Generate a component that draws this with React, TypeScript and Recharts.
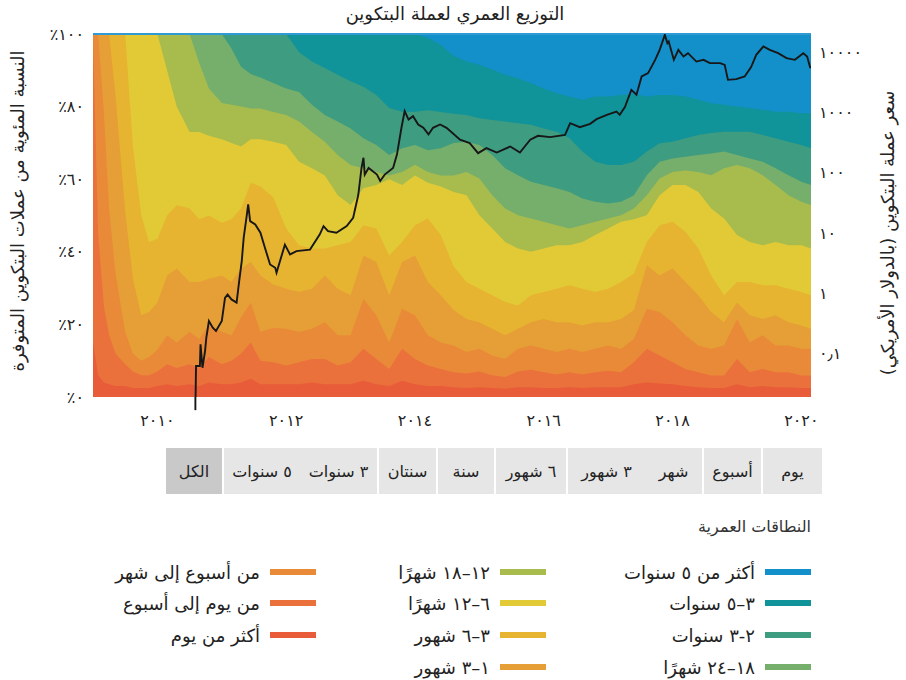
import { ComposedChart, Area, Line, XAxis, YAxis, ReferenceLine } from 'recharts';

const FONT = "'DejaVu Sans', sans-serif";

// sample dates (decimal years)
const years = [
  2009.0, 2009.08, 2009.17, 2009.25, 2009.35, 2009.5, 2009.62, 2009.75, 2009.87,
  2010.0, 2010.15, 2010.3, 2010.5, 2010.65, 2010.8,
  2011.0, 2011.15, 2011.3, 2011.45, 2011.6, 2011.8,
  2012.0, 2012.2, 2012.4, 2012.6, 2012.8,
  2013.0, 2013.2, 2013.4, 2013.6, 2013.8,
  2014.0, 2014.2, 2014.4, 2014.6, 2014.8,
  2015.0, 2015.2, 2015.4, 2015.6, 2015.8,
  2016.0, 2016.2, 2016.4, 2016.6, 2016.8,
  2017.0, 2017.2, 2017.4, 2017.6, 2017.8,
  2018.0, 2018.2, 2018.4, 2018.6, 2018.8,
  2019.0, 2019.2, 2019.4, 2019.6, 2019.8,
  2020.0, 2020.15,
];

// share of supply (%) last moved less than X ago (cumulative)
const under5y = [
  100, 100, 100, 100, 100, 100, 100, 100, 100,
  100, 100, 100, 100, 100, 100,
  100, 100, 100, 100, 100, 100,
  100, 100, 100, 100, 100,
  100, 100, 100, 100, 100,
  100, 99, 97, 94, 92.4,
  91.5, 90.2, 88.8, 87.8, 86.5,
  85, 83.7, 82.8, 81.9, 82.8,
  82.8, 83.2, 83.5, 82.8, 83.2,
  83.2, 82.8, 81.9, 80.9, 80.5,
  80, 79.6, 79.1, 78.6, 78.6,
  78.2, 78.2,
];
const under3y = [
  100, 100, 100, 100, 100, 100, 100, 100, 100,
  100, 100, 100, 100, 100, 100,
  100, 100, 100, 100, 100, 100,
  100, 95, 92.4, 90.6, 88.8,
  87, 85.5, 83.2, 79.6, 78.6,
  78.6, 79, 78.5, 78, 77.7,
  76.8, 76.3, 75.9, 75.4, 75,
  74, 73.1, 71.3, 67.6, 64.8,
  63.9, 63.9, 64.8, 67.6, 69.9,
  70.3, 71.3, 72.2, 72.7, 73.1,
  73.1, 73.1, 72.2, 71.3, 70.3,
  69.4, 68.5,
];
const under24m = [
  100, 100, 100, 100, 100, 100, 100, 100, 100,
  100, 100, 100, 100, 100, 100,
  100, 96, 91, 89, 88, 86.5,
  85, 84, 80.5, 77.7, 75.9,
  74, 71.3, 69.4, 66.7, 68.5,
  69.4, 68, 68.5, 70, 70.3,
  69.4, 66.7, 63, 61.1, 59.3,
  58.4, 57.5, 56.5, 54.7, 53.8,
  53.3, 53.8, 55.6, 61.1, 64.8,
  65.7, 66.2, 66.7, 67.1, 67.6,
  66.7, 65.7, 64.8, 63, 61.1,
  59.3, 58.4,
];
const under18m = [
  100, 100, 100, 100, 100, 100, 100, 100, 100,
  100, 100, 100, 100, 92, 85,
  81, 80.5, 80, 79.5, 79.5, 78.5,
  77.7, 75.9, 73, 70.3, 66.7,
  63.9, 63, 62, 61, 62,
  64, 62, 61, 61, 62,
  60.2, 55.6, 51.9, 50.1, 49.2,
  48.3, 47.3, 46.4, 47.3, 48.3,
  49.2, 50.1, 51.9, 55.6, 60.2,
  62, 62.4, 62, 61.1, 63,
  63.9, 63, 61.1, 58.4, 55.6,
  53.8, 52.9,
];
const under12m = [
  100, 100, 100, 100, 100, 100, 100, 100, 100,
  100, 90, 80, 73, 73, 72,
  71, 70, 69, 71, 71, 70.3,
  69.4, 64.8, 63, 61, 55.6,
  52.9, 57.5, 58.4, 60, 58.4,
  61, 59, 58, 56.5, 55.6,
  50.1, 46.4, 42.7, 40.9, 40,
  40.9, 41.8, 41.8, 42.7, 44.6,
  46.4, 48.3, 49, 50.1, 55.6,
  58.4, 58.4, 56.5, 51.9, 49.2,
  44.6, 42.7, 41.8, 42.7, 41.8,
  41.8, 40.9,
];
const under6m = [
  100, 100, 100, 100, 100, 100, 69, 50, 42.7,
  43.6, 50, 52.8, 52, 49, 50,
  48, 49, 52, 59, 58, 55,
  46.4, 41.8, 40.9, 40.9, 41.8,
  42.7, 47.3, 46.4, 39, 42.7,
  47.3, 49.2, 44.6, 36, 31.7,
  29.8, 28, 26.2, 25.2, 28,
  28.9, 29.8, 30.8, 29.8, 28.9,
  29.8, 31.7, 34, 42.7, 47.3,
  48.3, 45.5, 40.9, 33.5, 28,
  31.7, 31.7, 30.8, 30.8, 29.8,
  28.9, 28,
];
const under3m = [
  100, 100, 100, 100, 83, 51, 32.6, 22.5, 23.4,
  26, 33.5, 35.4, 31.7, 31.7, 32.6,
  33.5, 31.7, 35.4, 37.2, 33.5, 31,
  29.8, 28.9, 29.8, 33.5, 29.8,
  28, 39, 37.2, 28, 37.2,
  39, 31.7, 28, 24, 21.5,
  20.6, 18.8, 17, 18.8, 20.6,
  21.5, 20.6, 20.6, 19.7, 20.6,
  20.6, 21.5, 24, 36.3, 33.5,
  35.4, 31.7, 28, 23.4, 20.6,
  26, 22.5, 21.5, 22.5, 20.6,
  19.7, 18.8,
];
const under1m = [
  100, 100, 78, 52, 34, 18, 12, 10, 11,
  13, 17, 15, 18, 16, 20,
  18, 17, 22, 26, 18, 19,
  18.8, 17.9, 18.8, 20.6, 17,
  17, 27, 22.5, 15, 24.3,
  22.5, 17, 15, 14.2, 12.4,
  13.3, 11.4, 10.5, 13.3, 14.2,
  13.3, 12.4, 13.3, 12.4, 13.3,
  14.2, 13.3, 16, 24.3, 23.4,
  20.6, 17, 14.2, 13.3, 14.2,
  21.5, 15.1, 17, 14.2, 14.2,
  13.3, 13.3,
];
const under1w = [
  100, 45, 25, 17, 12, 9, 7, 6, 6,
  7, 9, 8, 9, 8, 11,
  9, 10, 12, 15, 10, 9.6,
  8.7, 9.6, 10.5, 10.5, 8.7,
  9.6, 13.3, 10.5, 7.7, 13.3,
  10.5, 8.7, 7.7, 6.8, 6.5,
  7, 6, 5.5, 7, 7.5,
  6.8, 6.2, 6.8, 6.2, 6.8,
  7.2, 6.8, 9.6, 13.3, 11.4,
  9.6, 7.7, 6.8, 5.9, 5.9,
  10.5, 6.8, 7.7, 6.8, 6.8,
  5.9, 5.9,
];
const under1d = [
  15, 6, 4, 3.5, 3, 3, 2.5, 2.5, 2.5,
  3, 3.5, 3, 3.5, 3, 4,
  3.5, 3.5, 4, 5, 3.5, 3.5,
  3.5, 3.5, 4, 3.5, 3.5,
  3.5, 4.5, 3.5, 3, 4.5,
  3.5, 3, 3, 2.7, 2.5,
  2.7, 2.5, 2.3, 2.7, 2.7,
  2.5, 2.5, 2.7, 2.5, 2.7,
  2.7, 2.7, 3.5, 4, 3.7,
  3.5, 3, 2.7, 2.5, 2.5,
  3.5, 2.7, 3, 2.7, 2.7,
  2.5, 2.5,
];

// bitcoin price, USD (log axis)
const priceYears = [
  2010.59, 2010.6, 2010.66, 2010.67, 2010.7, 2010.74, 2010.76, 2010.8, 2010.86, 2010.91,
  2011.0, 2011.05, 2011.09, 2011.15, 2011.23, 2011.27, 2011.31, 2011.34, 2011.39, 2011.41,
  2011.44, 2011.52, 2011.6, 2011.67, 2011.75, 2011.83, 2011.85, 2011.98, 2012.06, 2012.16,
  2012.37, 2012.52, 2012.58, 2012.65, 2012.78, 2012.94, 2013.04, 2013.12, 2013.17, 2013.2,
  2013.22, 2013.28, 2013.41, 2013.46, 2013.53, 2013.66, 2013.72, 2013.79, 2013.84, 2013.9,
  2013.97, 2014.05, 2014.13, 2014.21, 2014.28, 2014.39, 2014.49, 2014.7, 2014.85, 2014.98,
  2015.11, 2015.27, 2015.48, 2015.63, 2015.79, 2015.91, 2016.1, 2016.33, 2016.41, 2016.56,
  2016.72, 2016.82, 2016.98, 2017.13, 2017.18, 2017.26, 2017.36, 2017.44, 2017.52, 2017.62,
  2017.73, 2017.8, 2017.88, 2017.92, 2017.94, 2018.02, 2018.09, 2018.17, 2018.24, 2018.37,
  2018.48, 2018.58, 2018.74, 2018.81, 2018.86, 2018.99, 2019.12, 2019.22, 2019.3, 2019.41,
  2019.51, 2019.64, 2019.77, 2019.9, 2020.03, 2020.09, 2020.14,
];
const priceUsd = [
  0.0115, 0.062, 0.062, 0.142, 0.058, 0.11, 0.183, 0.346, 0.268, 0.236,
  0.346, 0.84, 0.955, 0.79, 0.7, 1.59, 3.42, 8.3, 20.3, 29.7,
  15.7, 13.8, 10.1, 5.7, 3.0, 2.65, 2.19, 6.4, 4.4, 5.0,
  5.3, 9.4, 13.0, 10.7, 10.1, 13.0, 17.9, 43, 120, 177,
  93, 120, 93, 73, 93, 120, 200, 556, 1052, 762,
  867, 631, 556, 431, 556, 631, 556, 352, 310, 211,
  256, 216, 272, 216, 352, 409, 389, 425, 664, 570,
  647, 774, 912, 1036, 912, 1225, 2371, 1960, 3944, 4487,
  7450, 10900, 19360, 14100, 15000, 7450, 10900, 8450, 9610, 6980,
  7450, 6580, 6580, 6150, 3470, 3560, 3944, 5640, 9010, 12400,
  10900, 9610, 7940, 7450, 9610, 8450, 5430,
];

const pctTicks = [0, 20, 40, 60, 80, 100];
const priceTicks = [0.1, 1, 10, 100, 1000, 10000];
const yearTicks = [2010, 2012, 2014, 2016, 2018, 2020];
const priceAxisMin = 0.019;

// oldest band first; each area is drawn from 0 up to its cumulative share
const bands = [
  { key: 'all', label: 'أكثر من ٥ سنوات', color: '#1390c9' },
  { key: 'under5y', label: '٣–٥ سنوات', color: '#11939a' },
  { key: 'under3y', label: '٢-٣ سنوات', color: '#3e9c80' },
  { key: 'under24m', label: '١٨–٢٤ شهرًا', color: '#76ae6b' },
  { key: 'under18m', label: '١٢–١٨ شهرًا', color: '#a8bc4d' },
  { key: 'under12m', label: '٦–١٢ شهرًا', color: '#e2ca36' },
  { key: 'under6m', label: '٣–٦ شهور', color: '#e6b430' },
  { key: 'under3m', label: '١–٣ شهور', color: '#e69f36' },
  { key: 'under1m', label: 'من أسبوع إلى شهر', color: '#e98a38' },
  { key: 'under1w', label: 'من يوم إلى أسبوع', color: '#eb713c' },
  { key: 'under1d', label: 'أكثر من يوم', color: '#e85c39' },
];

const rangeButtons = [
  { label: 'الكل', width: 58, active: true, divider: true },
  { label: '٥ سنوات', width: 76, divider: false },
  { label: '٣ سنوات', width: 79, divider: true },
  { label: 'سنتان', width: 59, divider: true },
  { label: 'سنة', width: 58, divider: true },
  { label: '٦ شهور', width: 72, divider: true },
  { label: '٣ شهور', width: 77, divider: false },
  { label: 'شهر', width: 59, divider: true },
  { label: 'أسبوع', width: 59, divider: true },
  { label: 'يوم', width: 59, divider: false },
];

const toArabic = (s: string) => s.replace(/\d/g, (d) => '٠١٢٣٤٥٦٧٨٩'[Number(d)]);

const tableData = years.map((t, i) => ({
  t,
  all: 100,
  under5y: under5y[i],
  under3y: under3y[i],
  under24m: under24m[i],
  under18m: under18m[i],
  under12m: under12m[i],
  under6m: under6m[i],
  under3m: under3m[i],
  under1m: under1m[i],
  under1w: under1w[i],
  under1d: under1d[i],
}));

const priceData = priceYears.map((t, i) => ({ t, p: priceUsd[i] }));

const tickStyle = { fontSize: 16, fill: '#222', fontFamily: FONT };

export default function App() {
  const legendCols = [bands.slice(0, 4), bands.slice(4, 8), bands.slice(8)];
  const colRight = [811, 546, 316];
  const rowY = [572, 603, 635, 667];
  let btnLeft = 166;

  return (
    <div
      style={{
        position: 'absolute',
        left: 0,
        top: 0,
        width: 906,
        height: 680,
        background: '#fff',
        fontFamily: FONT,
        color: '#222',
        overflow: 'hidden',
      }}
    >
      <div
        dir="rtl"
        style={{ position: 'absolute', left: 0, top: 3, width: 910, textAlign: 'center', fontSize: 18 }}
      >
        التوزيع العمري لعملة البتكوين
      </div>

      <div style={{ position: 'absolute', left: 0, top: 0 }}>
        <ComposedChart
          width={906}
          height={440}
          data={tableData}
          margin={{ top: 34, right: 25, bottom: 13, left: 33 }}
        >
          <XAxis
            dataKey="t"
            type="number"
            domain={[2009, 2020.15]}
            allowDataOverflow
            ticks={yearTicks}
            interval={0}
            tickFormatter={(v: number) => toArabic(String(v))}
            axisLine={false}
            tickLine={false}
            tickMargin={12}
            height={30}
            tick={{ ...tickStyle, letterSpacing: 2.5 }}
          />
          <YAxis
            yAxisId="pct"
            width={60}
            domain={[0, 100]}
            ticks={pctTicks}
            interval={0}
            tickFormatter={(v: number) => '٪' + toArabic(String(v))}
            axisLine={false}
            tickLine={false}
            tickMargin={3}
            tick={{ ...tickStyle, letterSpacing: 1 }}
          />
          <YAxis
            yAxisId="price"
            orientation="right"
            width={70}
            scale="log"
            domain={[priceAxisMin, 20000]}
            allowDataOverflow
            ticks={priceTicks}
            interval={0}
            tickFormatter={(v: number) => (v < 1 ? '٠٫١' : toArabic(String(v)))}
            axisLine={false}
            tickLine={false}
            tick={{ ...tickStyle, letterSpacing: 2.5 }}
          />
          {bands.map((b) => (
            <Area
              key={b.key}
              yAxisId="pct"
              dataKey={b.key}
              type="linear"
              stroke="none"
              fill={b.color}
              fillOpacity={1}
              dot={false}
              activeDot={false}
              isAnimationActive={false}
            />
          ))}
          <ReferenceLine yAxisId="pct" y={100} stroke="#2f9ad3" strokeWidth={2} />
          <Line
            yAxisId="price"
            data={priceData}
            dataKey="p"
            type="linear"
            stroke="#171717"
            strokeWidth={1.9}
            dot={false}
            activeDot={false}
            isAnimationActive={false}
          />
          {/* the first price print runs below the plot floor */}
          <ReferenceLine
            yAxisId="price"
            ifOverflow="visible"
            segment={[
              { x: priceYears[0], y: priceUsd[0] },
              { x: priceYears[0], y: priceAxisMin },
            ]}
            stroke="#171717"
            strokeWidth={1.9}
          />
        </ComposedChart>
      </div>

      <div
        dir="rtl"
        style={{
          position: 'absolute',
          left: 17,
          top: 211,
          transform: 'translate(-50%, -50%) rotate(-90deg)',
          whiteSpace: 'nowrap',
          fontSize: 18,
        }}
      >
        النسبة المئوية من عملات البتكوين المتوفرة
      </div>
      <div
        dir="rtl"
        style={{
          position: 'absolute',
          left: 887,
          top: 233,
          transform: 'translate(-50%, -50%) rotate(-90deg)',
          whiteSpace: 'nowrap',
          fontSize: 18,
        }}
      >
        سعر عملة البتكوين (بالدولار الأمريكي)
      </div>

      {rangeButtons.map((b) => {
        const left = btnLeft;
        btnLeft += b.width;
        return (
          <div
            key={b.label}
            dir="rtl"
            style={{
              position: 'absolute',
              left,
              top: 448,
              width: b.width,
              height: 46,
              background: b.active ? '#c9c9c9' : '#e6e6e6',
              borderRight: b.divider ? '2px solid #fff' : 'none',
              boxSizing: 'border-box',
              display: 'flex',
              alignItems: 'center',
              justifyContent: 'center',
              fontSize: 16,
              color: '#222',
              whiteSpace: 'nowrap',
            }}
          >
            {b.label}
          </div>
        );
      })}

      <div
        dir="rtl"
        style={{ position: 'absolute', right: 906 - 811, top: 517, fontSize: 16, color: '#333' }}
      >
        النطاقات العمرية
      </div>

      {legendCols.map((col, ci) =>
        col.map((b, ri) => (
          <div
            key={b.key}
            dir="rtl"
            style={{
              position: 'absolute',
              right: 906 - colRight[ci],
              top: rowY[ri] - 12,
              height: 24,
              display: 'flex',
              alignItems: 'center',
              gap: 10,
              fontSize: 18,
              whiteSpace: 'nowrap',
            }}
          >
            <span style={{ display: 'inline-block', width: 46, height: 6, background: b.color }} />
            <span>{b.label}</span>
          </div>
        )),
      )}
    </div>
  );
}
